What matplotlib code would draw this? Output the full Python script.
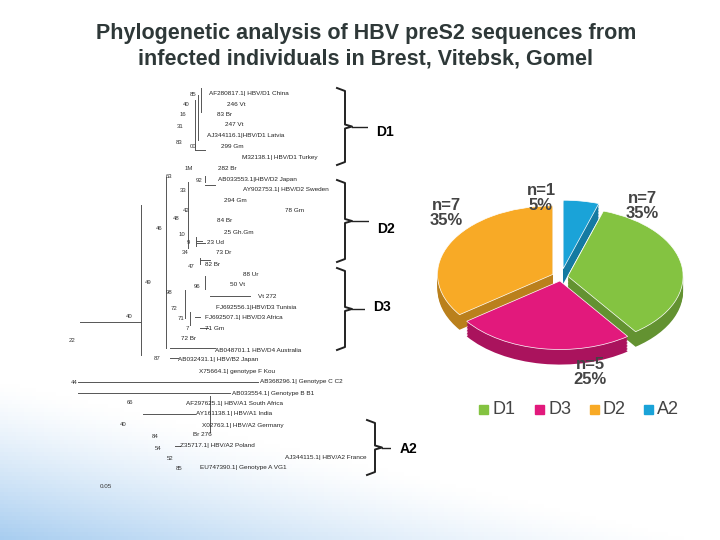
import matplotlib
matplotlib.use("Agg")
import matplotlib.pyplot as plt
import numpy as np

plt.rcParams['font.family'] = ['Liberation Sans', 'DejaVu Sans']

title = "Phylogenetic analysis of HBV preS2 sequences from\ninfected individuals in Brest, Vitebsk, Gomel"

# pie data (clockwise from top)
pie_labels = ["A2", "D1", "D3", "D2"]
pie_n = [1, 7, 5, 7]
pie_pct = [5, 35, 25, 35]
pie_colors = ["#1aa3d8", "#84c341", "#e2197c", "#f8aa26"]
legend_order = ["D1", "D3", "D2", "A2"]

# tree leaves: label, x, y (pixel space)
leaf_labels = ["AF280817.1| HBV/D1 China", "246 Vt", "83 Br", "247 Vt", "AJ344116.1|HBV/D1 Latvia",
               "299 Gm", "M32138.1| HBV/D1 Turkey", "282 Br", "AB033553.1|HBV/D2 Japan",
               "AY902753.1| HBV/D2 Sweden", "294 Gm", "78 Gm", "84 Br", "25 Gh.Gm", "23 Ud",
               "73 Dr", "82 Br", "88 Ur", "50 Vt", "Vt 272", "FJ692556.1|HBV/D3 Tunisia",
               "FJ692507.1| HBV/D3 Africa", "71 Gm", "72 Br", "AB048701.1 HBV/D4 Australia",
               "AB032431.1| HBV/B2 Japan", "X75664.1| genotype F Kou", "AB368296.1| Genotype C C2",
               "AB033554.1| Genotype B B1", "AF297625.1| HBV/A1 South Africa", "AY161138.1| HBV/A1 India",
               "X02763.1| HBV/A2 Germany", "Br 276", "Z35717.1| HBV/A2 Poland",
               "AJ344115.1| HBV/A2 France", "EU747390.1| Genotype A VG1"]
leaf_x = [209, 227, 217, 225, 207, 221, 242, 218, 218, 243, 224, 285, 217, 224, 207, 216, 205, 243,
          230, 258, 216, 205, 205, 181, 215, 178, 199, 260, 232, 186, 196, 202, 193, 180, 285, 200]
leaf_y = [94, 104, 115, 125, 136, 147, 158, 169, 179, 190, 201, 211, 221, 233, 243, 253, 265, 275,
          285, 296, 307, 318, 328, 339, 350, 359, 371, 382, 393, 403, 414, 425, 435, 446, 457, 467]

node_labels = ["85", "40", "16", "31", "83", "00", "1M", "63", "92", "33", "42", "48", "46", "10",
               "9", "34", "47", "49", "98", "96", "72", "71", "7", "40", "22", "87", "44", "66",
               "40", "84", "54", "52", "85"]
node_x = [196, 190, 186, 184, 182, 196, 193, 172, 202, 187, 190, 180, 162, 185, 190, 189, 195, 152,
          172, 200, 177, 184, 189, 133, 75, 161, 78, 133, 127, 158, 161, 173, 182]
node_y = [94, 104, 114, 126, 142, 146, 168, 176, 180, 191, 211, 218, 229, 235, 243, 252, 266, 282,
          292, 287, 308, 318, 328, 317, 341, 359, 382, 403, 425, 436, 448, 459, 469]

# branches: vertical (x, y0, y1), horizontal (y, x0, x1)
vlines = [(201, 88, 112), (198, 95, 140), (195, 100, 150), (205, 176, 182), (188, 182, 248),
          (196, 237, 246), (200, 258, 264), (166, 177, 348), (205, 276, 289), (185, 290, 318),
          (190, 312, 325), (141, 205, 355), (210, 396, 432)]
hlines = [(185, 205, 215), (150, 195, 205), (241, 196, 202), (243, 196, 205), (260, 200, 210),
          (296, 210, 250), (317, 195, 200), (328, 200, 208), (348, 170, 215), (358, 170, 178),
          (322, 80, 141), (382, 78, 258), (393, 78, 230), (414, 143, 195), (446, 175, 180)]

brackets = [("D1", 345, 88, 165, 385, 132), ("D2", 345, 180, 262, 386, 229),
            ("D3", 345, 268, 350, 382, 307), ("A2", 375, 420, 475, 408, 449)]

fig = plt.figure(figsize=(7.2, 5.4), dpi=100)
bg = fig.add_axes([0, 0, 1, 1])
bg.set_xlim(0, 720); bg.set_ylim(540, 0); bg.axis('off')
# background gradient (light blue at lower left)
yy, xx = np.mgrid[0:540:4, 0:720:4]
g = np.clip((yy - 380) / 160.0 - xx / 700.0, 0, 1) ** 1.3
img = np.ones(g.shape + (3,))
img[..., 0] = 1 - 0.35 * g; img[..., 1] = 1 - 0.2 * g; img[..., 2] = 1 - 0.06 * g
bg.imshow(img, extent=(0, 720, 540, 0), aspect='auto', zorder=0)

fig.text(366 / 720, 1 - 46 / 540, title, ha='center', va='center', fontsize=15.5,
         fontweight='bold', color='#2e3838', linespacing=1.3)

for lab, x, y in zip(leaf_labels, leaf_x, leaf_y):
    bg.text(x, y, lab, fontsize=4.6, va='center', color='#222222')
for lab, x, y in zip(node_labels, node_x, node_y):
    bg.text(x, y, lab, fontsize=4.3, va='center', ha='right', color='#333333')
for x, y0, y1 in vlines:
    bg.plot([x, x], [y0, y1], color='#555555', lw=0.7)
for y, x0, x1 in hlines:
    bg.plot([x0, x1], [y, y], color='#555555', lw=0.7)
bg.text(100, 488, "0.05", fontsize=4.5, color='#333333')

for lab, bx, y0, y1, lx, ly in brackets:
    ym = (y0 + y1) / 2
    bg.plot([bx - 8, bx, bx, bx + 7, bx, bx, bx - 8],
            [y0, y0 + 3, ym - 2, ym, ym + 2, y1 - 3, y1], color='#222222', lw=1.4)
    bg.plot([bx + 7, lx - 12], [ym, ym], color='#222222', lw=1)
    bg.text(lx, ly, lab, fontsize=10, fontweight='bold', ha='center', va='center',
            bbox=dict(boxstyle='square,pad=0.6', fc='white', ec='none'))

# pie
pax = fig.add_axes([425 / 720, 1 - 366 / 540, 272 / 720, 170 / 540])
explode = [0.12, 0.06, 0.06, 0.08]
dark = [tuple(c * 0.75 for c in matplotlib.colors.to_rgb(col)) for col in pie_colors]
for k in range(10, 0, -1):
    pax.pie(pie_n, colors=dark, startangle=90, counterclock=False, explode=explode,
            center=(0, -0.022 * k), radius=1)
pax.pie(pie_n, colors=pie_colors, startangle=90, counterclock=False, explode=explode,
        wedgeprops=dict(edgecolor='white', lw=0.5))
pax.set_aspect('auto')
pax.set_xlim(-1.18, 1.18); pax.set_ylim(-1.3, 1.18)

pie_text_xy = [(541, 198), (642, 206), (590, 372), (446, 213)]
for (x, y), n, p in zip(pie_text_xy, pie_n, pie_pct):
    fig.text(x / 720, 1 - y / 540, f"n={n}\n{p}%", fontsize=12, fontweight='bold',
             ha='center', va='center', color='#444444', linespacing=1.0)

lx = [492, 548, 603, 657]
for x, lab in zip(lx, legend_order):
    col = pie_colors[pie_labels.index(lab)]
    bg.add_patch(plt.Rectangle((x - 13, 405), 9, 9, color=col))
    bg.text(x, 410, lab, fontsize=13, va='center', color='#444444')

fig.savefig("out.png", dpi=100)
